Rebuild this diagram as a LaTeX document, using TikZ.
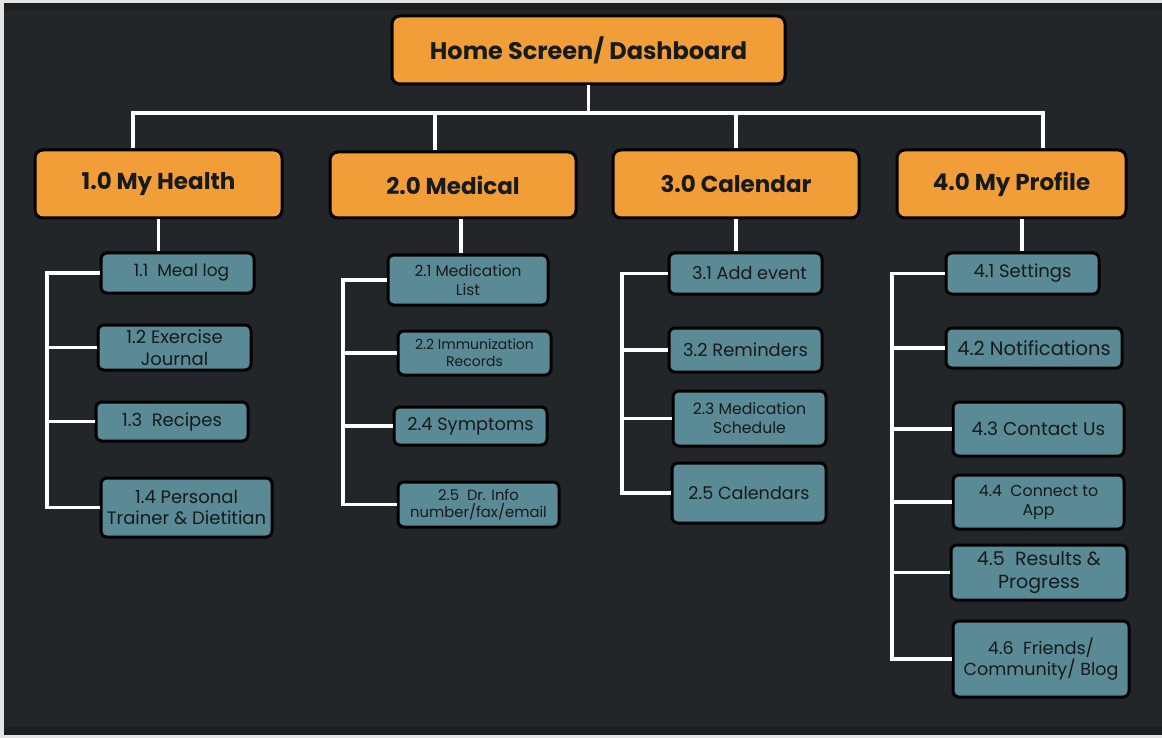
\documentclass[tikz,border=0pt]{standalone}
\usepackage{fontspec}
\setmainfont{Poppins}
\usetikzlibrary{calc}
\definecolor{bgdark}{HTML}{232629}
\definecolor{bgband}{HTML}{1C1E20}
\definecolor{frame}{HTML}{E4E4E4}
\definecolor{orangebox}{HTML}{F29E38}
\definecolor{tealbox}{HTML}{5A8A95}
\definecolor{ink}{HTML}{161A1C}
\newcommand{\fsz}[1]{\fontsize{#1}{\dimexpr #1pt*6/5\relax}\selectfont}
\tikzset{
  topbox/.style={draw=black, line width=3pt, rounded corners=8pt, fill=orangebox,
    text=ink, inner sep=0pt, align=center, font=\bfseries\fsz{23}},
  subbox/.style={draw=black, line width=3pt, rounded corners=6pt, fill=tealbox,
    text=ink, inner sep=0pt, align=center, font=\fsz{18}},
  conn/.style={draw=white, line width=3.5pt},
}
\begin{document}
\begin{tikzpicture}[x=1pt,y=-1pt]
\useasboundingbox (0,0) rectangle (1162,738);
\fill[frame] (0,0) rectangle (1162,738);
\fill[bgband] (4,3) rectangle (1162,735);
\fill[bgdark] (4,10) rectangle (1162,727);

% top
\node[topbox, minimum width=393pt, minimum height=68pt, font=\bfseries\fsz{24}] (home) at (588.5,50) {Home Screen/ Dashboard};
\node[topbox, minimum width=247pt, minimum height=68pt] (l1) at (158.5,184) {1.0 My Health};
\node[topbox, minimum width=246pt, minimum height=66pt] (l2) at (453,185) {2.0 Medical};
\node[topbox, minimum width=246pt, minimum height=68pt] (l3) at (736,184) {3.0 Calendar};
\node[topbox, minimum width=229pt, minimum height=68pt] (l4) at (1011.5,184) {4.0 My Profile};

% column 1
\node[subbox, minimum width=153pt, minimum height=40pt, font=\fsz{17}] (c11) at (177.5,273) {\hspace*{8pt}1.1\ \ Meal log};
\node[subbox, minimum width=153pt, minimum height=45pt] (c12) at (174.5,347.5) {1.2 Exercise\\Journal};
\node[subbox, minimum width=152pt, minimum height=39pt] (c13) at (172,421.5) {1.3\ \ Recipes};
\node[subbox, minimum width=171pt, minimum height=59pt] (c14) at (186.5,507.5) {1.4 Personal\\Trainer \& Dietitian};

% column 2
\node[subbox, minimum width=160pt, minimum height=50pt, font=\fsz{15.4}] (c21) at (468,280) {2.1 Medication\\List};
\node[subbox, minimum width=153pt, minimum height=44pt, font=\fsz{14}] (c22) at (474.5,353) {2.2 Immunization\\Records};
\node[subbox, minimum width=153pt, minimum height=38pt, font=\fsz{17.8}] (c24) at (470.5,426) {2.4 Symptoms};
\node[subbox, minimum width=161pt, minimum height=45pt, font=\fsz{14.8}] (c25) at (478.5,504.5) {2.5\ \ Dr. Info\\number/fax/email};

% column 3
\node[subbox, minimum width=153pt, minimum height=41pt, font=\fsz{17.7}] (c31) at (745.5,273.5) {\hspace*{8pt}3.1 Add event};
\node[subbox, minimum width=153pt, minimum height=44pt, font=\fsz{17.9}] (c32) at (745.5,350) {3.2 Reminders};
\node[subbox, minimum width=153pt, minimum height=55pt, font=\fsz{15.7}] (c33) at (749.5,418.5) {2.3 Medication\\Schedule};
\node[subbox, minimum width=154pt, minimum height=60pt, font=\fsz{17.6}] (c34) at (749,493) {2.5 Calendars};

% column 4
\node[subbox, minimum width=153pt, minimum height=41pt] (c41) at (1022.5,273.5) {4.1 Settings};
\node[subbox, minimum width=176pt, minimum height=40pt, font=\fsz{19.4}] (c42) at (1034,348) {4.2 Notifications};
\node[subbox, minimum width=171pt, minimum height=54pt, font=\fsz{18.5}] (c43) at (1038.5,429) {4.3 Contact Us};
\node[subbox, minimum width=171pt, minimum height=54pt, font=\fsz{15.8}] (c44) at (1038.5,502) {4.4\ \ Connect to\\App};
\node[subbox, minimum width=176pt, minimum height=55pt, font=\fsz{19}] (c45) at (1039,572.5) {4.5\ \ Results \&\\Progress};
\node[subbox, minimum width=176pt, minimum height=76pt, font=\fsz{17.5}] (c46) at (1041,659) {4.6\ \ Friends/\\Community/ Blog};

% helper coordinates
\coordinate (bus) at (0,113);
\coordinate (sp1) at (47,0);
\coordinate (sp2) at (343,0);
\coordinate (sp3) at (622,0);
\coordinate (sp4) at (892,0);
\coordinate (d1) at ($(l1.north)+(-25.5,0)$);
\coordinate (d2) at ($(l2.north)+(-18,0)$);
\coordinate (d3) at (l3.north);
\coordinate (d4) at ($(l4.north)+(31.5,0)$);
\coordinate (e2) at ($(l2.south)+(8,0)$);
\coordinate (e4) at ($(l4.south)+(10.5,0)$);

% home to level 1
\draw[conn] (home.south) -- (home.south |- bus);
\draw[conn] (d1) -- (d1 |- bus) -- (d4 |- bus) -- (d4);
\draw[conn] (d2) -- (d2 |- bus);
\draw[conn] (d3) -- (d3 |- bus);

% level 1 to first child
\draw[conn] (l1.south) -- (l1.south |- c11.north);
\draw[conn] (e2) -- (e2 |- c21.north);
\draw[conn] (l3.south) -- (l3.south |- c31.north);
\draw[conn] (e4) -- (e4 |- c41.north);

% column 1 bracket
\draw[conn] (c11.west) -- (c11.west -| sp1) -- (c14.west -| sp1) -- (c14.west);
\draw[conn] (c12.west) -- (c12.west -| sp1);
\draw[conn] (c13.west) -- (c13.west -| sp1);
% column 2 bracket
\draw[conn] (c21.west) -- (c21.west -| sp2) -- (c25.west -| sp2) -- (c25.west);
\draw[conn] (c22.west) -- (c22.west -| sp2);
\draw[conn] (c24.west) -- (c24.west -| sp2);
% column 3 bracket
\draw[conn] (c31.west) -- (c31.west -| sp3) -- (c34.west -| sp3) -- (c34.west);
\draw[conn] (c32.west) -- (c32.west -| sp3);
\draw[conn] (c33.west) -- (c33.west -| sp3);
% column 4 bracket
\draw[conn] (c41.west) -- (c41.west -| sp4) -- (c46.west -| sp4) -- (c46.west);
\draw[conn] (c42.west) -- (c42.west -| sp4);
\draw[conn] (c43.west) -- (c43.west -| sp4);
\draw[conn] (c44.west) -- (c44.west -| sp4);
\draw[conn] (c45.west) -- (c45.west -| sp4);
\end{tikzpicture}
\end{document}
